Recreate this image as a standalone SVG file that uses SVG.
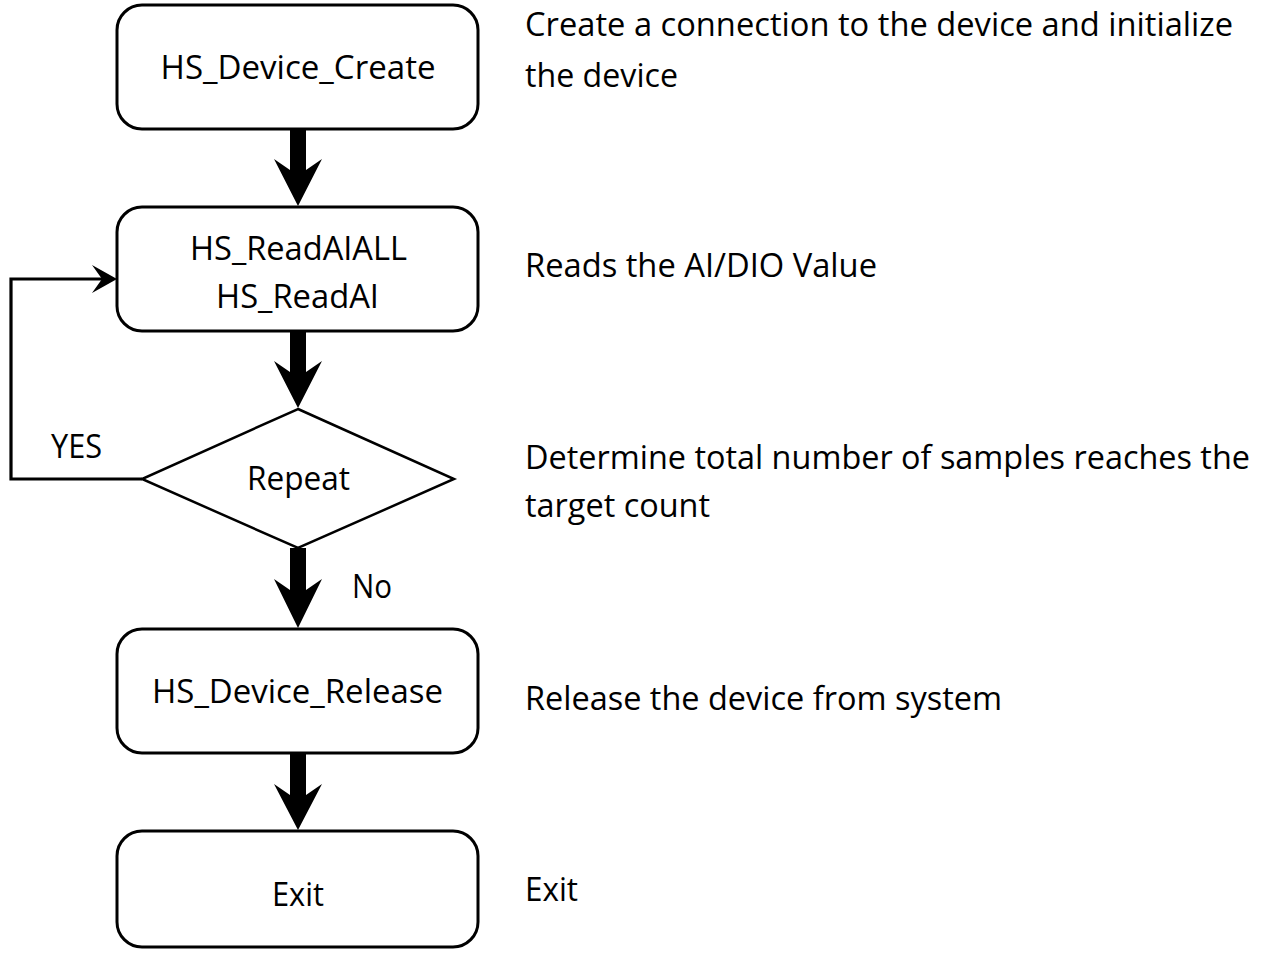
<svg xmlns="http://www.w3.org/2000/svg" width="1264" height="953" viewBox="0 0 1264 953">
<style>
.box{fill:#fff;stroke:#000;stroke-width:3}
.dia{fill:#fff;stroke:#000;stroke-width:2.5}
.t{font-family:"Open Sans","Liberation Sans",sans-serif;font-size:32px;fill:#000}
.c{text-anchor:middle}
.line{fill:none;stroke:#000;stroke-width:3.2}
.ah{fill:#000;stroke:none}
</style>
<rect width="1264" height="953" fill="#fff"/>
<g id="connectors">
<path class="ah" d="M290,129 L306,129 L306,170 L322,159 L298,206 L274,159 L290,170 Z"/>
<path class="ah" d="M290,331 L306,331 L306,372 L322,361 L298,408 L274,361 L290,372 Z"/>
<path class="ah" d="M290,548 L306,548 L306,590 L322,579 L298,628 L274,579 L290,590 Z"/>
<path class="ah" d="M290,753 L306,753 L306,795 L322,784 L298,830 L274,784 L290,795 Z"/>
<polyline class="line" points="142,479 11,479 11,279 104,279"/>
<path class="ah" d="M117,279 L92,265 L102,279 L92,293 Z"/>
<text class="t" x="51" y="458" textLength="51" lengthAdjust="spacingAndGlyphs">YES</text>
<text class="t" x="352" y="598" textLength="40" lengthAdjust="spacingAndGlyphs">No</text>
</g>
<g id="node-create">
<rect class="box" x="117" y="5" width="361" height="124" rx="25"/>
<text class="t c" x="298" y="79" textLength="275" lengthAdjust="spacingAndGlyphs">HS_Device_Create</text>
</g>
<g id="node-read">
<rect class="box" x="117" y="207" width="361" height="124" rx="25"/>
<text class="t c" x="298.5" y="260" textLength="217" lengthAdjust="spacingAndGlyphs">HS_ReadAIALL</text>
<text class="t c" x="297.5" y="308" textLength="163" lengthAdjust="spacingAndGlyphs">HS_ReadAI</text>
</g>
<g id="node-repeat">
<polygon class="dia" points="298,409 454,479 298,548 142,479"/>
<text class="t c" x="298.5" y="490" textLength="103" lengthAdjust="spacingAndGlyphs">Repeat</text>
</g>
<g id="node-release">
<rect class="box" x="117" y="629" width="361" height="124" rx="25"/>
<text class="t c" x="297.5" y="703" textLength="291" lengthAdjust="spacingAndGlyphs">HS_Device_Release</text>
</g>
<g id="node-exit">
<rect class="box" x="117" y="831" width="361" height="116" rx="25"/>
<text class="t c" x="298" y="906" textLength="52" lengthAdjust="spacingAndGlyphs">Exit</text>
</g>
<g id="descriptions">
<text class="t" x="525" y="36" textLength="708" lengthAdjust="spacingAndGlyphs">Create a connection to the device and initialize</text>
<text class="t" x="525" y="87" textLength="153" lengthAdjust="spacingAndGlyphs">the device</text>
<text class="t" x="525" y="277" textLength="352" lengthAdjust="spacingAndGlyphs">Reads the AI/DIO Value</text>
<text class="t" x="525" y="469" textLength="725" lengthAdjust="spacingAndGlyphs">Determine total number of samples reaches the</text>
<text class="t" x="525" y="517" textLength="185" lengthAdjust="spacingAndGlyphs">target count</text>
<text class="t" x="525" y="710" textLength="477" lengthAdjust="spacingAndGlyphs">Release the device from system</text>
<text class="t" x="525" y="901" textLength="53" lengthAdjust="spacingAndGlyphs">Exit</text>
</g>
</svg>
